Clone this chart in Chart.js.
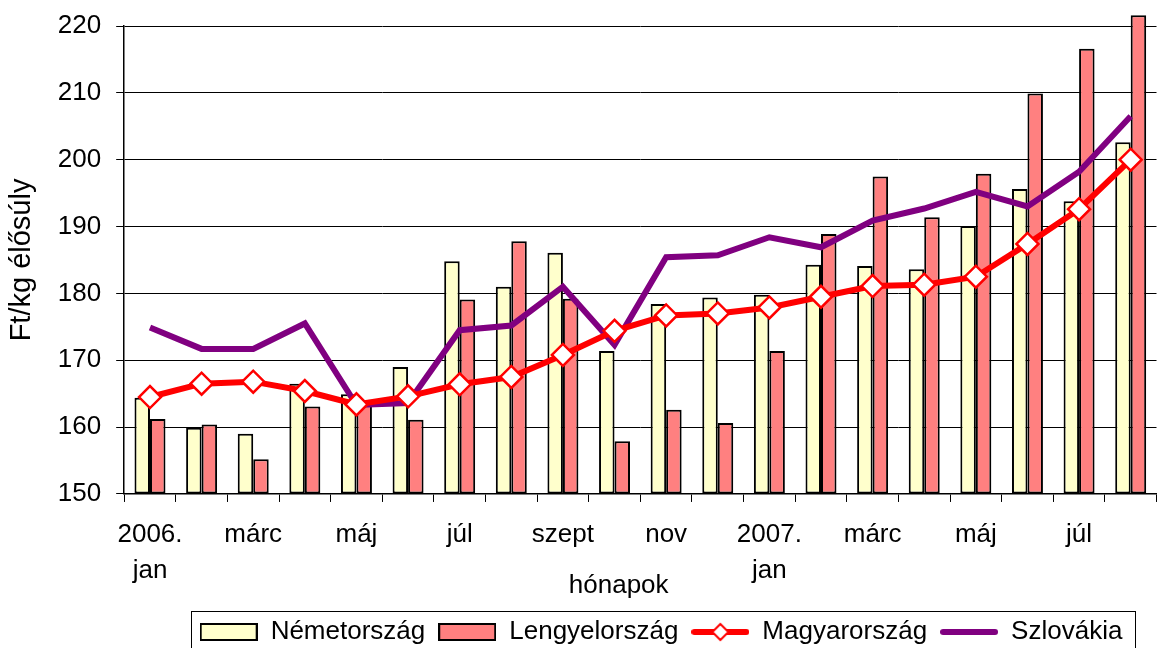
<!DOCTYPE html>
<html><head><meta charset="utf-8">
<script src="https://cdn.jsdelivr.net/npm/chart.js@4/dist/chart.umd.min.js"></script>
<style>
html,body{margin:0;padding:0;overflow:hidden;background:#fff;width:1166px;height:648px}
#wrap{width:1170px;height:655px;}
</style>
</head><body><div id="wrap"><canvas id="c" width="1170" height="655"></canvas></div>
<script>
const categories = ['2006. jan','febr','márc','ápr','máj','jún','júl','aug','szept','okt','nov','dec','2007. jan','febr','márc','ápr','máj','jún','júl','aug'];
const tickLabels = [['2006.','jan'],'','márc','','máj','','júl','','szept','','nov','',['2007.','jan'],'','márc','','máj','','júl',''];
const nemetorszag   = [164.4,159.9,159.0,166.5,164.9,169.0,184.8,181.0,186.1,171.4,178.4,179.4,179.8,184.3,184.1,183.6,190.1,195.6,193.8,202.6];
const lengyelorszag = [161.2,160.4,155.2,163.1,163.5,161.1,179.1,187.8,179.2,157.9,162.6,160.6,171.4,188.9,197.5,191.4,197.9,209.9,216.6,221.6];
const magyarorszag  = [164.5,166.5,166.8,165.4,163.4,164.6,166.4,167.5,170.8,174.4,176.7,177.0,177.9,179.5,181.1,181.3,182.5,187.4,192.6,200.0];
const szlovakia     = [174.9,171.7,171.7,175.5,163.3,163.6,174.5,175.2,181.0,172.3,185.4,185.7,188.4,186.9,190.9,192.7,195.2,193.0,198.2,206.5];
const yTitle = 'Ft/kg élősúly';
const xTitle = 'hónapok';
const yMin = 150, yMax = 220, yStep = 10;

Chart.defaults.font.family = '"Liberation Sans", Arial, sans-serif';
Chart.defaults.color = '#000';

function makeSwatch(fill){
  const c=document.createElement('canvas'); c.width=58; c.height=18;
  const g=c.getContext('2d');
  g.fillStyle=fill; g.fillRect(1,1,56,16);
  g.strokeStyle='#000'; g.lineWidth=2; g.strokeRect(1,1,56,16);
  return c;
}
function makeLine(color, diamond){
  const c=document.createElement('canvas'); c.width=58; c.height=20;
  const g=c.getContext('2d');
  g.strokeStyle=color; g.lineWidth=6; g.lineCap='round';
  g.beginPath(); g.moveTo(3,10); g.lineTo(55,10); g.stroke();
  if(diamond){
    g.beginPath(); g.moveTo(29,2); g.lineTo(37,10); g.lineTo(29,18); g.lineTo(21,10); g.closePath();
    g.fillStyle='#fff'; g.fill(); g.lineWidth=2; g.strokeStyle=color; g.stroke();
  }
  return c;
}
const legendImages = [makeSwatch('#FFFFCC'), makeSwatch('#FF8080'), makeLine('#FF0000', true), makeLine('#800080', false)];

const LEGEND_SHIFT = 76;
const legendPlugin = {
  id: 'legendShiftBox',
  afterLayout(chart){
    if(chart.legend){ chart.legend.left += LEGEND_SHIFT; chart.legend.right += LEGEND_SHIFT; }
  },
  afterDraw(chart){
    const boxes = chart.legend && chart.legend.legendHitBoxes;
    if(!boxes || !boxes.length) return;
    let l=Infinity, r=-Infinity, t=Infinity;
    boxes.forEach(b=>{ l=Math.min(l,b.left); r=Math.max(r,b.left+b.width); t=Math.min(t,b.top); });
    const ctx=chart.ctx; ctx.save();
    ctx.strokeStyle='#000'; ctx.lineWidth=1;
    ctx.strokeRect(Math.round(l-9)+0.5, Math.round(t-8)+0.5, Math.round(r-l+21), 100);
    ctx.restore();
  }
};

new Chart(document.getElementById('c'), {
  data: {
    labels: categories,
    datasets: [
      {type:'bar', label:'Németország', data:nemetorszag, base:yMin, backgroundColor:'#FFFFCC', borderColor:'#000', borderWidth:2, borderSkipped:false, order:2, clip:false, categoryPercentage:0.6, barPercentage:1},
      {type:'bar', label:'Lengyelország', data:lengyelorszag, base:yMin, backgroundColor:'#FF8080', borderColor:'#000', borderWidth:2, borderSkipped:false, order:3, clip:false, categoryPercentage:0.6, barPercentage:1},
      {type:'line', label:'Magyarország', data:magyarorszag, borderColor:'#FF0000', borderWidth:6, tension:0, pointStyle:'rectRot', pointRadius:11, pointBackgroundColor:'#fff', pointBorderColor:'#FF0000', pointBorderWidth:2.5, order:0},
      {type:'line', label:'Szlovákia', data:szlovakia, borderColor:'#800080', borderWidth:6, tension:0, pointRadius:0, order:1}
    ]
  },
  options: {
    responsive:false, animation:false, devicePixelRatio:1,
    layout:{padding:{top:26,left:0,right:0,bottom:0}},
    plugins:{
      tooltip:{enabled:false},
      legend:{
        position:'bottom',
        labels:{
          usePointStyle:true, pointStyleWidth:58, boxHeight:18, padding:13,
          font:{size:26}, color:'#000',
          generateLabels(chart){
            return chart.data.datasets.map((ds,i)=>({text:ds.label, datasetIndex:i, pointStyle:legendImages[i], fillStyle:'#fff', strokeStyle:'#000', lineWidth:0, hidden:false, fontColor:'#000'}));
          }
        }
      }
    },
    scales:{
      x:{
        offset:true,
        grid:{offset:true, drawOnChartArea:false, drawTicks:true, tickLength:8, color:'#000'},
        border:{color:'#000', width:1.5},
        ticks:{autoSkip:false, maxRotation:0, minRotation:0, padding:15, font:{size:26, lineHeight:1.37}, color:'#000', callback:(v,i)=>tickLabels[i]},
        title:{display:true, text:xTitle + '\u00A0'.repeat(6), font:{size:26}, color:'#000', padding:{top:-33, bottom:4.6}}
      },
      y:{
        min:yMin, max:yMax,
        ticks:{stepSize:yStep, padding:15, font:{size:26, lineHeight:0.8}, color:'#000'},
        grid:{color:'#000', tickLength:8, lineWidth:1},
        border:{color:'#000', width:1.5},
        title:{display:true, text:yTitle, font:{size:29}, color:'#000', padding:{top:5, bottom:3}}
      }
    }
  },
  plugins:[legendPlugin]
});
</script>
</body></html>
